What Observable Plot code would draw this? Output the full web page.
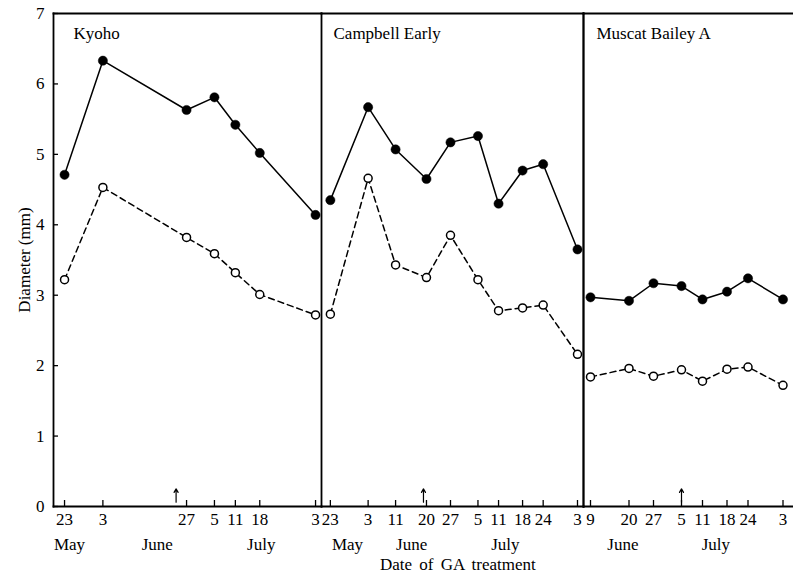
<!DOCTYPE html>
<html><head><meta charset="utf-8">
<script src="https://cdn.jsdelivr.net/npm/d3@7"></script>
<script src="https://cdn.jsdelivr.net/npm/@observablehq/plot@0.6"></script>
<style>
body{margin:0;background:#fff;}
#wrap{position:relative;width:793px;height:576px;overflow:hidden;background:#fff;}
#row{display:flex;}
#row svg{overflow:visible;}
#xtitle{position:absolute;left:380px;top:555px;font:17px "Liberation Serif",serif;word-spacing:3px;color:#000;}
</style></head><body>
<div id="wrap"><div id="row"></div><div id="xtitle">Date of GA treatment</div></div>
<script>
// ---- data ----
const yTicks = [0, 1, 2, 3, 4, 5, 6, 7];

const kyohoDates   = ["05-23","06-03","06-27","07-05","07-11","07-18","08-03"];
const kyohoFilled  = [4.71, 6.33, 5.63, 5.81, 5.42, 5.02, 4.14];
const kyohoOpen    = [3.22, 4.53, 3.82, 3.59, 3.32, 3.01, 2.72];

const campbellDates  = ["05-23","06-03","06-11","06-20","06-27","07-05","07-11","07-18","07-24","08-03"];
const campbellFilled = [4.35, 5.67, 5.07, 4.65, 5.17, 5.26, 4.30, 4.77, 4.86, 3.65];
const campbellOpen   = [2.73, 4.66, 3.43, 3.25, 3.85, 3.22, 2.78, 2.82, 2.86, 2.16];

const muscatDates  = ["06-09","06-20","06-27","07-05","07-11","07-18","07-24","08-03"];
const muscatFilled = [2.97, 2.92, 3.17, 3.13, 2.94, 3.05, 3.24, 2.94];
const muscatOpen   = [1.84, 1.96, 1.85, 1.94, 1.78, 1.95, 1.98, 1.72];

const kyohoMonths    = [{label:"May", date:"05-24T10"}, {label:"June", date:"06-18T14"}, {label:"July", date:"07-18T10"}];
const campbellMonths = [{label:"May", date:"05-28T00"}, {label:"June", date:"06-15T16"}, {label:"July", date:"07-13T00"}];
const muscatMonths   = [{label:"June", date:"06-18T06"}, {label:"July", date:"07-14T20"}];

// GA treatment arrows (date, arrow from / to in mm)
const kyohoArrow    = [{date:"06-24T00", from:0.06, to:0.25}];
const campbellArrow = [{date:"06-19T03", from:0.06, to:0.25}];
const muscatArrow   = [{date:"07-05T00", from:0.06, to:0.25}];

// ---- drawing ----
const parse = s => new Date(`2000-${s.length > 5 ? s + ":00" : s + "T00:00"}Z`);
const FONT = "Liberation Serif";
const H = 556, MT = 13, MB = 50, PH = H - MT - MB;

function panel({name, dates, filled, open, months, arrows, domain, width, marginLeft, showY, frameSides, titleDx}) {
  const xs = dates.map(parse);
  const rowsF = xs.map((d, i) => ({date: d, v: filled[i]}));
  const rowsO = xs.map((d, i) => ({date: d, v: open[i]}));
  const pw = width - marginLeft;
  const marks = [];
  frameSides.forEach(a => marks.push(Plot.frame({anchor: a, stroke: "#000", strokeWidth: 1.8})));
  marks.push(Plot.tickX(xs, {x: d => d, insetTop: PH - 6, strokeWidth: 1.3}));
  if (showY) {
    marks.push(Plot.axisY({ticks: yTicks, tickSize: 0, tickPadding: 9, tickFormat: d => d,
      label: "Diameter (mm)", labelArrow: "none", labelAnchor: "center", labelOffset: 36}));
    marks.push(Plot.tickY(yTicks, {y: d => d, insetRight: pw - 5, strokeWidth: 1.3}));
  }
  marks.push(Plot.axisX({ticks: xs, tickSize: 0, tickPadding: 6, tickFormat: d => d.getUTCDate(), label: null}));
  marks.push(Plot.text(months, {x: d => parse(d.date), text: "label", frameAnchor: "bottom", dy: 43}));
  marks.push(Plot.line(rowsO, {x: "date", y: "v", strokeWidth: 1.5, strokeDasharray: "6,4"}));
  marks.push(Plot.line(rowsF, {x: "date", y: "v", strokeWidth: 1.5}));
  marks.push(Plot.dot(rowsO, {x: "date", y: "v", r: 4, fill: "white", stroke: "black", strokeWidth: 1.5}));
  marks.push(Plot.dot(rowsF, {x: "date", y: "v", r: 4.6, fill: "black", stroke: "black", strokeWidth: 0.5}));
  marks.push(Plot.arrow(arrows, {x: d => parse(d.date), y1: "from", y2: "to", headLength: 5, strokeWidth: 1.2}));
  marks.push(Plot.text([name], {frameAnchor: "top-left", dx: titleDx, dy: 20, text: d => d, lineAnchor: "middle"}));
  return Plot.plot({
    width, height: H, marginLeft, marginRight: 0, marginTop: MT, marginBottom: MB,
    style: {fontFamily: FONT, fontSize: "17px", color: "#000", background: "transparent", overflow: "visible"},
    x: {type: "utc", domain: domain.map(parse)},
    y: {domain: [0, 7], axis: null},
    marks
  });
}

const row = document.getElementById("row");
row.append(panel({name: "Kyoho", dates: kyohoDates, filled: kyohoFilled, open: kyohoOpen, months: kyohoMonths,
  arrows: kyohoArrow, domain: ["05-19T20", "08-04T17"], width: 321, marginLeft: 53, showY: true,
  frameSides: ["top", "left", "right", "bottom"], titleDx: 20}));
row.append(panel({name: "Campbell Early", dates: campbellDates, filled: campbellFilled, open: campbellOpen, months: campbellMonths,
  arrows: campbellArrow, domain: ["05-20T10", "08-04T18"], width: 262, marginLeft: 0, showY: false,
  frameSides: ["top", "right", "bottom"], titleDx: 12}));
row.append(panel({name: "Muscat Bailey A", dates: muscatDates, filled: muscatFilled, open: muscatOpen, months: muscatMonths,
  arrows: muscatArrow, domain: ["06-07T00", "08-06T00"], width: 210, marginLeft: 0, showY: false,
  frameSides: ["top", "left", "bottom"], titleDx: 13}));
</script>
</body></html>
